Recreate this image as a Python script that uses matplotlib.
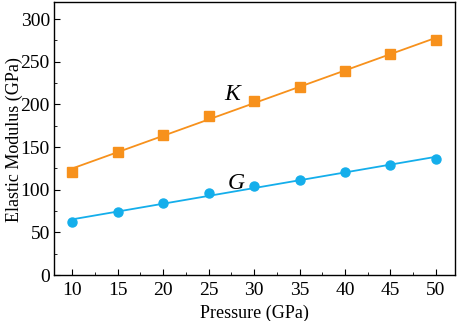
import numpy as np
import matplotlib
matplotlib.use("Agg")
import matplotlib.pyplot as plt
from matplotlib.ticker import MultipleLocator

plt.rcParams['font.family'] = ['Liberation Serif', 'DejaVu Serif']

pressure = [10, 15, 20, 25, 30, 35, 40, 45, 50]
bulk_K = [121, 144, 164, 186, 204, 220, 239, 259, 276]
shear_G = [62, 74, 84, 96, 104, 111, 121, 129, 136]

orange = '#F7911C'
blue = '#14AEEB'

fig = plt.figure(figsize=(4.57, 3.21), dpi=100)
ax = fig.add_axes([54 / 457, 46 / 321, 401 / 457, 273 / 321])

x = np.array(pressure)
for vals, col, mk in [(bulk_K, orange, 's'), (shear_G, blue, 'o')]:
    ax.plot(x, vals, linestyle='none', marker=mk, color=col, markersize=6.5)
    # linear fit through the points
    p = np.polyfit(x, vals, 1)
    ax.plot(x, np.polyval(p, x), color=col, lw=1.3)

ax.text(27.6, 212, 'K', style='italic', fontsize=17, ha='center', va='center')
ax.text(28.0, 107, 'G', style='italic', fontsize=17, ha='center', va='center')

ax.set_xlim(8, 52.1)
ax.set_ylim(0, 320)
ax.xaxis.set_major_locator(MultipleLocator(5))
ax.xaxis.set_minor_locator(MultipleLocator(2.5))
ax.yaxis.set_major_locator(MultipleLocator(50))
ax.yaxis.set_minor_locator(MultipleLocator(25))
ax.tick_params(which='both', direction='in', top=False, right=False, labelsize=14)
ax.tick_params(which='major', length=4)
ax.tick_params(which='minor', length=2.5)
ax.tick_params(axis='x', which='major', pad=5)
ax.tick_params(axis='y', which='major', pad=3)
ax.set_xlabel('Pressure (GPa)', fontsize=13)
ax.set_ylabel('Elastic Modulus (GPa)', fontsize=13)
ax.xaxis.set_label_coords(0.5, -0.11)
ax.yaxis.set_label_coords(-0.078, 0.495)
for s in ax.spines.values():
    s.set_linewidth(1.0)

fig.savefig('out.png', dpi=100)
